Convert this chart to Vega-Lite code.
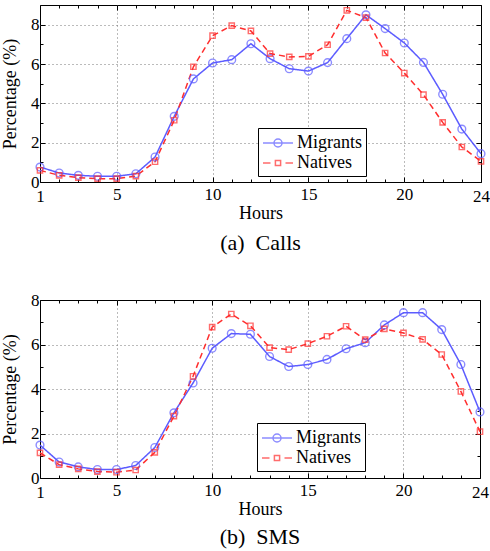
{
  "$schema": "https://vega.github.io/schema/vega-lite/v6.json",
  "padding": {"left": 1, "top": 4, "right": 0, "bottom": 0},
  "background": "white",
  "config": {
    "font": "Liberation Serif",
    "view": {"stroke": "black", "strokeWidth": 1},
    "axis": {
      "labelFont": "Liberation Serif", "labelFontSize": 17, "labelColor": "black",
      "titleFont": "Liberation Serif", "titleFontSize": 18, "titleFontWeight": "normal", "titleColor": "black",
      "domain": false, "tickColor": "black", "tickSize": -4, "tickWidth": 1,
      "gridColor": "#777777", "gridDash": [1, 3], "gridWidth": 1,
      "labelFlush": false, "labelOverlap": false, "labelPadding": 8
    },
    "legend": {
      "orient": "none", "legendX": 218, "legendY": 123,
      "fillColor": "white", "strokeColor": "black", "padding": 4,
      "labelFont": "Liberation Serif", "labelFontSize": 18, "labelColor": "black",
      "symbolSize": 400, "symbolStrokeWidth": 1.5, "symbolFillColor": "transparent",
      "rowPadding": 0, "labelOffset": 8, "symbolOffset": 5
    }
  },
  "data": {"values": [
    {"panel": "Calls", "hour": 1, "Migrants": 0.76, "Natives": 0.59},
    {"panel": "Calls", "hour": 2, "Migrants": 0.46, "Natives": 0.34},
    {"panel": "Calls", "hour": 3, "Migrants": 0.34, "Natives": 0.22},
    {"panel": "Calls", "hour": 4, "Migrants": 0.29, "Natives": 0.17},
    {"panel": "Calls", "hour": 5, "Migrants": 0.29, "Natives": 0.17},
    {"panel": "Calls", "hour": 6, "Migrants": 0.42, "Natives": 0.30},
    {"panel": "Calls", "hour": 7, "Migrants": 1.27, "Natives": 1.03},
    {"panel": "Calls", "hour": 8, "Migrants": 3.34, "Natives": 3.14},
    {"panel": "Calls", "hour": 9, "Migrants": 5.24, "Natives": 5.86},
    {"panel": "Calls", "hour": 10, "Migrants": 6.05, "Natives": 7.44},
    {"panel": "Calls", "hour": 11, "Migrants": 6.22, "Natives": 7.95},
    {"panel": "Calls", "hour": 12, "Migrants": 7.03, "Natives": 7.68},
    {"panel": "Calls", "hour": 13, "Migrants": 6.27, "Natives": 6.53},
    {"panel": "Calls", "hour": 14, "Migrants": 5.76, "Natives": 6.36},
    {"panel": "Calls", "hour": 15, "Migrants": 5.64, "Natives": 6.39},
    {"panel": "Calls", "hour": 16, "Migrants": 6.07, "Natives": 6.98},
    {"panel": "Calls", "hour": 17, "Migrants": 7.29, "Natives": 8.73},
    {"panel": "Calls", "hour": 18, "Migrants": 8.50, "Natives": 8.36},
    {"panel": "Calls", "hour": 19, "Migrants": 7.80, "Natives": 6.56},
    {"panel": "Calls", "hour": 20, "Migrants": 7.07, "Natives": 5.54},
    {"panel": "Calls", "hour": 21, "Migrants": 6.08, "Natives": 4.44},
    {"panel": "Calls", "hour": 22, "Migrants": 4.46, "Natives": 3.03},
    {"panel": "Calls", "hour": 23, "Migrants": 2.69, "Natives": 1.78},
    {"panel": "Calls", "hour": 24, "Migrants": 1.44, "Natives": 1.05},
    {"panel": "SMS", "hour": 1, "Migrants": 1.48, "Natives": 1.13},
    {"panel": "SMS", "hour": 2, "Migrants": 0.72, "Natives": 0.60},
    {"panel": "SMS", "hour": 3, "Migrants": 0.50, "Natives": 0.41},
    {"panel": "SMS", "hour": 4, "Migrants": 0.38, "Natives": 0.29},
    {"panel": "SMS", "hour": 5, "Migrants": 0.38, "Natives": 0.26},
    {"panel": "SMS", "hour": 6, "Migrants": 0.56, "Natives": 0.36},
    {"panel": "SMS", "hour": 7, "Migrants": 1.37, "Natives": 1.15},
    {"panel": "SMS", "hour": 8, "Migrants": 2.93, "Natives": 2.78},
    {"panel": "SMS", "hour": 9, "Migrants": 4.27, "Natives": 4.57},
    {"panel": "SMS", "hour": 10, "Migrants": 5.83, "Natives": 6.78},
    {"panel": "SMS", "hour": 11, "Migrants": 6.49, "Natives": 7.37},
    {"panel": "SMS", "hour": 12, "Migrants": 6.46, "Natives": 6.84},
    {"panel": "SMS", "hour": 13, "Migrants": 5.46, "Natives": 5.86},
    {"panel": "SMS", "hour": 14, "Migrants": 5.01, "Natives": 5.77},
    {"panel": "SMS", "hour": 15, "Migrants": 5.10, "Natives": 6.04},
    {"panel": "SMS", "hour": 16, "Migrants": 5.33, "Natives": 6.37},
    {"panel": "SMS", "hour": 17, "Migrants": 5.81, "Natives": 6.82},
    {"panel": "SMS", "hour": 18, "Migrants": 6.08, "Natives": 6.22},
    {"panel": "SMS", "hour": 19, "Migrants": 6.88, "Natives": 6.70},
    {"panel": "SMS", "hour": 20, "Migrants": 7.43, "Natives": 6.52},
    {"panel": "SMS", "hour": 21, "Migrants": 7.43, "Natives": 6.23},
    {"panel": "SMS", "hour": 22, "Migrants": 6.67, "Natives": 5.55},
    {"panel": "SMS", "hour": 23, "Migrants": 5.10, "Natives": 3.89},
    {"panel": "SMS", "hour": 24, "Migrants": 2.97, "Natives": 2.08}
  ]},
  "transform": [{"fold": ["Migrants", "Natives"], "as": ["series", "value"]}],
  "spacing": 35,
  "vconcat": [
    {
      "width": 441, "height": 177,
      "title": {"text": "(a)\u00a0\u00a0Calls", "orient": "bottom", "fontSize": 22, "font": "Liberation Serif", "fontWeight": "normal", "color": "black", "offset": 11},
      "transform": [{"filter": "datum.panel === 'Calls'"}],
      "resolve": {"scale": {"shape": "independent", "color": "independent"}, "axis": {"x": "independent", "y": "independent"}},
      "layer": [
        {
          "mark": {"type": "line", "strokeWidth": 1.5},
          "encoding": {
            "x": {"field": "hour", "type": "quantitative", "scale": {"domain": [1, 24], "nice": false},
              "axis": {"title": "Hours", "values": [1,2,3,4,5,6,7,8,9,10,11,12,13,14,15,16,17,18,19,20,21,22,23,24],
                "labelExpr": "(datum.value==1||datum.value==5||datum.value==10||datum.value==15||datum.value==20||datum.value==24) ? datum.label : ''",
                "labelFont": "Liberation Serif", "titleFont": "Liberation Serif", "labelPadding": 9,
                "tickSize": {"condition": {"test": "datum.value==5||datum.value==10||datum.value==15||datum.value==20", "value": -5}, "value": -3},
                "grid": true, "gridOpacity": {"condition": {"test": "datum.value==5||datum.value==10||datum.value==15||datum.value==20", "value": 1}, "value": 0},
                "titlePadding": 0}},
            "y": {"field": "value", "type": "quantitative", "scale": {"domain": [0, 9], "nice": false},
              "axis": {"title": "Percentage (%)", "values": [0,1,2,3,4,5,6,7,8],
                "labelExpr": "(datum.value % 2 == 0) ? datum.label : ''",
                "labelFont": "Liberation Serif", "titleFont": "Liberation Serif", "labelPadding": 6,
                "tickSize": {"condition": {"test": "datum.value % 2 == 0", "value": -5}, "value": -3},
                "grid": true, "gridOpacity": {"condition": {"test": "datum.value==2||datum.value==4||datum.value==6||datum.value==8", "value": 1}, "value": 0},
                "titlePadding": 11}},
            "color": {"field": "series", "type": "nominal", "scale": {"domain": ["Migrants", "Natives"], "range": ["#5c5cff", "#ff2e2e"]}, "legend": null},
            "strokeDash": {"field": "series", "type": "nominal", "scale": {"domain": ["Migrants", "Natives"], "range": [[1, 0], [6, 4]]}, "legend": null}
          }
        },
        {
          "mark": {"type": "point", "filled": false, "strokeWidth": 1.4},
          "encoding": {
            "x": {"field": "hour", "type": "quantitative", "axis": null},
            "y": {"field": "value", "type": "quantitative", "axis": null},
            "color": {"field": "series", "type": "nominal", "scale": {"domain": ["Migrants", "Natives"], "range": ["#5c5cff", "#ff2e2e"]}, "legend": null},
            "shape": {"field": "series", "type": "nominal", "scale": {"domain": ["Migrants", "Natives"], "range": ["circle", "square"]}, "legend": null},
            "size": {"field": "series", "type": "nominal", "scale": {"domain": ["Migrants", "Natives"], "range": [60, 28]}, "legend": null}
          }
        },
        {
          "transform": [{"filter": "datum.hour > 100"}],
          "mark": {"type": "point", "filled": false, "strokeWidth": 1.4},
          "encoding": {
            "x": {"field": "hour", "type": "quantitative",
              "axis": {"orient": "top", "title": null, "labels": false, "grid": false, "values": [1,2,3,4,5,6,7,8,9,10,11,12,13,14,15,16,17,18,19,20,21,22,23,24],
                "tickSize": {"condition": {"test": "datum.value==5||datum.value==10||datum.value==15||datum.value==20", "value": -5}, "value": -3}}},
            "y": {"field": "value", "type": "quantitative",
              "axis": {"orient": "right", "title": null, "labels": false, "grid": false, "values": [0,1,2,3,4,5,6,7,8,9],
                "tickSize": {"condition": {"test": "datum.value % 2 == 0", "value": -5}, "value": -3}}},
            "color": {"field": "series", "type": "nominal", "scale": {"domain": ["Migrants", "Natives"], "range": ["#5c5cff", "#ff2e2e"]}, "legend": {"title": null, "labelFont": "Liberation Serif"}},
            "shape": {"field": "series", "type": "nominal", "scale": {"domain": ["Migrants", "Natives"],
              "range": ["M-1.5,0L1.5,0M0.4,0A0.4,0.4,0,1,1,-0.4,0A0.4,0.4,0,1,1,0.4,0", "M-1.5,0L-0.75,0M-0.26,-0.26L0.26,-0.26L0.26,0.26L-0.26,0.26ZM0.75,0L1.5,0"]},
              "legend": {"title": null, "labelFont": "Liberation Serif"}}
          }
        }
      ]
    },
    {
      "width": 440, "height": 178,
      "title": {"text": "(b)\u00a0\u00a0SMS", "orient": "bottom", "fontSize": 22, "font": "Liberation Serif", "fontWeight": "normal", "color": "black", "offset": 9},
      "transform": [{"filter": "datum.panel === 'SMS'"}],
      "resolve": {"scale": {"shape": "independent", "color": "independent"}, "axis": {"x": "independent", "y": "independent"}},
      "layer": [
        {
          "mark": {"type": "line", "strokeWidth": 1.5},
          "encoding": {
            "x": {"field": "hour", "type": "quantitative", "scale": {"domain": [1, 24], "nice": false},
              "axis": {"title": "Hours", "values": [1,2,3,4,5,6,7,8,9,10,11,12,13,14,15,16,17,18,19,20,21,22,23,24],
                "labelExpr": "(datum.value==1||datum.value==5||datum.value==10||datum.value==15||datum.value==20||datum.value==24) ? datum.label : ''",
                "labelFont": "Liberation Serif", "titleFont": "Liberation Serif", "labelPadding": 9,
                "tickSize": {"condition": {"test": "datum.value==5||datum.value==10||datum.value==15||datum.value==20", "value": -5}, "value": -3},
                "grid": true, "gridOpacity": {"condition": {"test": "datum.value==5||datum.value==10||datum.value==15||datum.value==20", "value": 1}, "value": 0},
                "titlePadding": 0}},
            "y": {"field": "value", "type": "quantitative", "scale": {"domain": [0, 8], "nice": false},
              "axis": {"title": "Percentage (%)", "values": [0,1,2,3,4,5,6,7,8],
                "labelExpr": "(datum.value % 2 == 0) ? datum.label : ''",
                "labelFont": "Liberation Serif", "titleFont": "Liberation Serif", "labelPadding": 6,
                "tickSize": {"condition": {"test": "datum.value % 2 == 0", "value": -5}, "value": -3},
                "grid": true, "gridOpacity": {"condition": {"test": "datum.value==2||datum.value==4||datum.value==6", "value": 1}, "value": 0},
                "titlePadding": 11}},
            "color": {"field": "series", "type": "nominal", "scale": {"domain": ["Migrants", "Natives"], "range": ["#5c5cff", "#ff2e2e"]}, "legend": null},
            "strokeDash": {"field": "series", "type": "nominal", "scale": {"domain": ["Migrants", "Natives"], "range": [[1, 0], [6, 4]]}, "legend": null}
          }
        },
        {
          "mark": {"type": "point", "filled": false, "strokeWidth": 1.4},
          "encoding": {
            "x": {"field": "hour", "type": "quantitative", "axis": null},
            "y": {"field": "value", "type": "quantitative", "axis": null},
            "color": {"field": "series", "type": "nominal", "scale": {"domain": ["Migrants", "Natives"], "range": ["#5c5cff", "#ff2e2e"]}, "legend": null},
            "shape": {"field": "series", "type": "nominal", "scale": {"domain": ["Migrants", "Natives"], "range": ["circle", "square"]}, "legend": null},
            "size": {"field": "series", "type": "nominal", "scale": {"domain": ["Migrants", "Natives"], "range": [60, 28]}, "legend": null}
          }
        },
        {
          "transform": [{"filter": "datum.hour > 100"}],
          "mark": {"type": "point", "filled": false, "strokeWidth": 1.4},
          "encoding": {
            "x": {"field": "hour", "type": "quantitative",
              "axis": {"orient": "top", "title": null, "labels": false, "grid": false, "values": [1,2,3,4,5,6,7,8,9,10,11,12,13,14,15,16,17,18,19,20,21,22,23,24],
                "tickSize": {"condition": {"test": "datum.value==5||datum.value==10||datum.value==15||datum.value==20", "value": -5}, "value": -3}}},
            "y": {"field": "value", "type": "quantitative",
              "axis": {"orient": "right", "title": null, "labels": false, "grid": false, "values": [0,1,2,3,4,5,6,7,8],
                "tickSize": {"condition": {"test": "datum.value % 2 == 0", "value": -5}, "value": -3}}},
            "color": {"field": "series", "type": "nominal", "scale": {"domain": ["Migrants", "Natives"], "range": ["#5c5cff", "#ff2e2e"]}, "legend": {"title": null, "legendX": 217, "legendY": 123, "labelFont": "Liberation Serif"}},
            "shape": {"field": "series", "type": "nominal", "scale": {"domain": ["Migrants", "Natives"],
              "range": ["M-1.5,0L1.5,0M0.4,0A0.4,0.4,0,1,1,-0.4,0A0.4,0.4,0,1,1,0.4,0", "M-1.5,0L-0.75,0M-0.26,-0.26L0.26,-0.26L0.26,0.26L-0.26,0.26ZM0.75,0L1.5,0"]},
              "legend": {"title": null, "legendX": 217, "legendY": 123, "labelFont": "Liberation Serif"}}
          }
        }
      ]
    }
  ]
}
